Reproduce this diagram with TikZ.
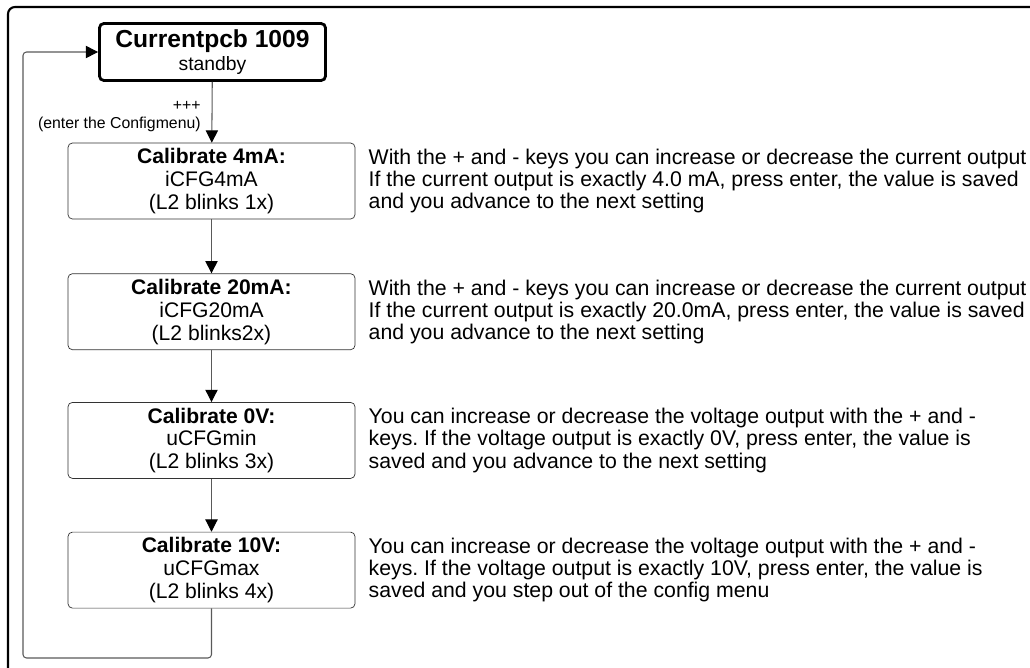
\documentclass[tikz,border=0pt]{standalone}
\usepackage{fontspec}
\setmainfont{Liberation Sans}
\usetikzlibrary{arrows.meta,positioning}
\frenchspacing

\begin{document}
\begin{tikzpicture}[>={Triangle[length=7pt,width=7pt,color=black]}, font=\fontsize{12}{13}\selectfont,
        box/.style={draw=black!80, rounded corners=2.5pt, align=center, minimum width=5.74cm, minimum height=1.52cm, inner sep=1pt},
        flow/.style={draw=black!65, line width=0.6pt},
        note/.style={anchor=west, align=left, inner sep=0pt, font=\fontsize{12.1}{12.6}\selectfont}]
        \useasboundingbox (0,0) rectangle (20.6,-13.36);
        % outer frame
        \draw[line width=1.2pt, rounded corners=4pt] (20.7,-0.14) -- (0.16,-0.14) -- (0.16,-13.5);

        \node[box, draw=black, line width=1.6pt, minimum width=4.52cm, minimum height=1.14cm] (top) at (4.25,-1.04)
            {{\fontsize{14}{16}\selectfont\bfseries Currentpcb 1009}\\\fontsize{11}{12.5}\selectfont standby};
        \node[box] (cal4) at (4.23,-3.62) {{\bfseries Calibrate 4mA:}\\iCFG4mA\\(L2 blinks 1x)};
        \node[box, below=1.08cm of cal4] (cal20) {{\bfseries Calibrate 20mA:}\\iCFG20mA\\(L2 blinks2x)};
        \node[box, below=1.04cm of cal20] (cal0) {{\bfseries Calibrate 0V:}\\uCFGmin\\(L2 blinks 3x)};
        \node[box, below=1.06cm of cal0] (cal10) {{\bfseries Calibrate 10V:}\\uCFGmax\\(L2 blinks 4x)};

        \node[note, right=0.26cm of cal4] (txt4) {With the + and - keys you can increase or decrease the current output\\If the current output is exactly 4.0 mA, press enter, the value is saved\\and you advance to the next setting};
        \node[note, right=0.26cm of cal20] (txt20) {With the + and - keys you can increase or decrease the current output\\If the current output is exactly 20.0mA, press enter, the value is saved\\and you advance to the next setting};
        \node[note, right=0.26cm of cal0] (txt0) {You can increase or decrease the voltage output with the + and -\\keys. If the voltage output is exactly 0V, press enter, the value is\\saved and you advance to the next setting};
        \node[note, right=0.26cm of cal10] (txt10) {You can increase or decrease the voltage output with the + and -\\keys. If the voltage output is exactly 10V, press enter, the value is\\saved and you step out of the config menu};

        \draw[flow, ->] (top) -- node[left=0.1cm, yshift=-0.09cm, align=right, font=\fontsize{9}{10}\selectfont] (enter) {+++\\(enter the Configmenu)} (cal4);
        \draw[flow, ->] (cal4) -- (cal20);
        \draw[flow, ->] (cal20) -- (cal0);
        \draw[flow, ->] (cal0) -- (cal10);
        \draw[flow, ->, rounded corners=2pt] (cal10.south) |- (0.46,-13.16) |- (top.west);
\end{tikzpicture}
\end{document}
